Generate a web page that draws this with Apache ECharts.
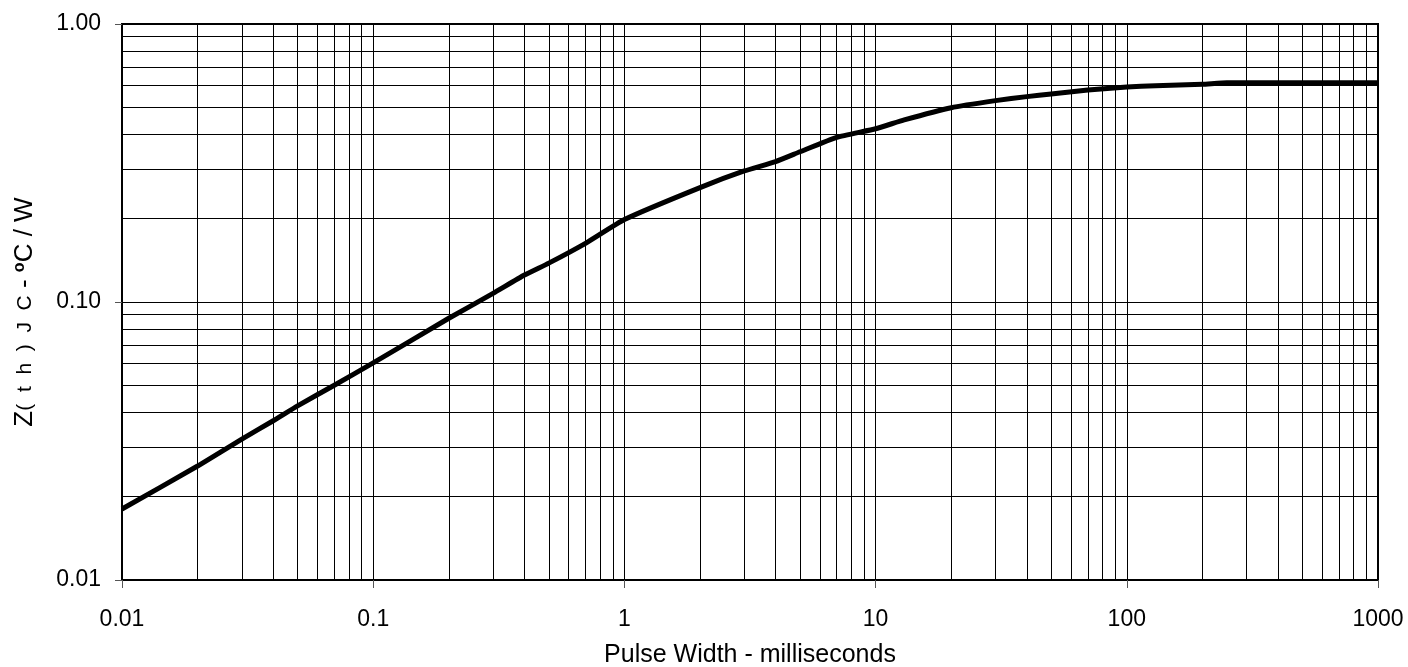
<!DOCTYPE html>
<html>
<head>
<meta charset="utf-8">
<script src="https://cdn.jsdelivr.net/npm/echarts@6/dist/echarts.min.js"></script>
<style>
  html, body { margin: 0; padding: 0; background: #fff; }
  #chart { width: 1408px; height: 667px; }
</style>
</head>
<body>
<div id="chart"></div>
<script>
// Pulse width (ms) and thermal impedance Z(th)JC (°C/W)
var pulseWidth = [0.01, 0.02, 0.03, 0.04, 0.05, 0.07, 0.1, 0.2, 0.3, 0.4, 0.5, 0.7, 1, 2, 3, 4, 5, 7, 10, 13, 20, 30, 40, 50, 70, 100, 130, 200, 250, 1000];
var zthJC      = [0.018, 0.0257, 0.0321, 0.0374, 0.0423, 0.0502, 0.0604, 0.0874, 0.1074, 0.125, 0.138, 0.1626, 0.198, 0.258, 0.296, 0.32, 0.347, 0.391, 0.42, 0.452, 0.50, 0.53, 0.548, 0.56, 0.579, 0.593, 0.60, 0.607, 0.615, 0.615];
var xTickLabels = ['0.01', '0.1', '1', '10', '100', '1000'];
var yTickLabels = ['0.01', '0.10', '1.00'];
var xDecades = [-2, -1, 0, 1, 2];
var yDecades = [-2, -1];
var minorSteps = [2, 3, 4, 5, 6, 7, 8, 9];

var curve = pulseWidth.map(function (x, i) { return [x, zthJC[i]]; });

function minorValues(decades) {
  var out = [];
  decades.forEach(function (d) {
    minorSteps.forEach(function (k) {
      out.push(Number((k * Math.pow(10, d)).toPrecision(6)));
    });
  });
  return out;
}
var gridLines = minorValues(xDecades).map(function (v) { return { xAxis: v }; })
  .concat(minorValues(yDecades).map(function (v) { return { yAxis: v }; }));

var FONT = '"Liberation Sans", Arial, sans-serif';
var chart = echarts.init(document.getElementById('chart'), null, { renderer: 'canvas' });
chart.setOption({
  animation: false,
  backgroundColor: '#fff',
  grid: {
    left: 122, right: 30, top: 24, bottom: 87,
    containLabel: false, outerBoundsMode: 'none',
    show: true, borderColor: '#000', borderWidth: 2, backgroundColor: 'transparent'
  },
  xAxis: {
    type: 'log', logBase: 10, min: 0.01, max: 1000, splitNumber: 5,
    name: 'Pulse Width - milliseconds', nameLocation: 'middle', nameGap: 63,
    nameTextStyle: { color: '#000', fontSize: 25, fontFamily: FONT },
    axisLine: { show: true, lineStyle: { color: '#000', width: 2 } },
    axisTick: { show: true, length: 8, lineStyle: { color: '#555', width: 1 } },
    minorTick: { show: false },
    splitLine: { show: true, lineStyle: { color: '#000', width: 1 } },
    axisLabel: {
      color: '#000', fontSize: 23, fontFamily: FONT, margin: 28,
      formatter: function (v) { return xTickLabels[Math.round(Math.log10(v)) + 2]; }
    }
  },
  yAxis: {
    type: 'log', logBase: 10, min: 0.01, max: 1, splitNumber: 2,
    name: '{a|Z}{b|(  t  h  )  J  C}{a| - }{s|o}{a|C / W}',
    nameLocation: 'middle', nameGap: 84, nameRotate: 90,
    nameTextStyle: {
      color: '#000', fontFamily: FONT, padding: [0, 20, 0, 0],
      rich: {
        a: { fontSize: 26, color: '#000', fontFamily: FONT },
        b: { fontSize: 21, color: '#000', fontFamily: FONT },
        s: { fontSize: 16, fontWeight: 'bold', color: '#000', fontFamily: FONT, verticalAlign: 'top' }
      }
    },
    axisLine: { show: true, lineStyle: { color: '#000', width: 2 } },
    axisTick: { show: true, length: 7, lineStyle: { color: '#555', width: 1 } },
    splitLine: { show: true, lineStyle: { color: '#000', width: 1 } },
    axisLabel: {
      color: '#000', fontSize: 23, fontFamily: FONT, margin: 21,
      formatter: function (v) { return yTickLabels[Math.round(Math.log10(v)) + 2]; }
    }
  },
  series: [
    {
      name: 'grid', type: 'line', data: curve, z: 1, silent: true,
      showSymbol: false, symbol: 'none', lineStyle: { opacity: 0, width: 0 },
      markLine: {
        silent: true, symbol: ['none', 'none'], animation: false,
        label: { show: false },
        emphasis: { disabled: true },
        lineStyle: { type: 'solid', color: '#000', width: 1 },
        data: gridLines
      }
    },
    {
      name: 'Zth', type: 'line', data: curve, z: 5, silent: true,
      showSymbol: false, symbol: 'none', smooth: 0.15,
      lineStyle: { color: '#000', width: 5, join: 'round', cap: 'butt' }
    }
  ]
});
</script>
</body>
</html>
